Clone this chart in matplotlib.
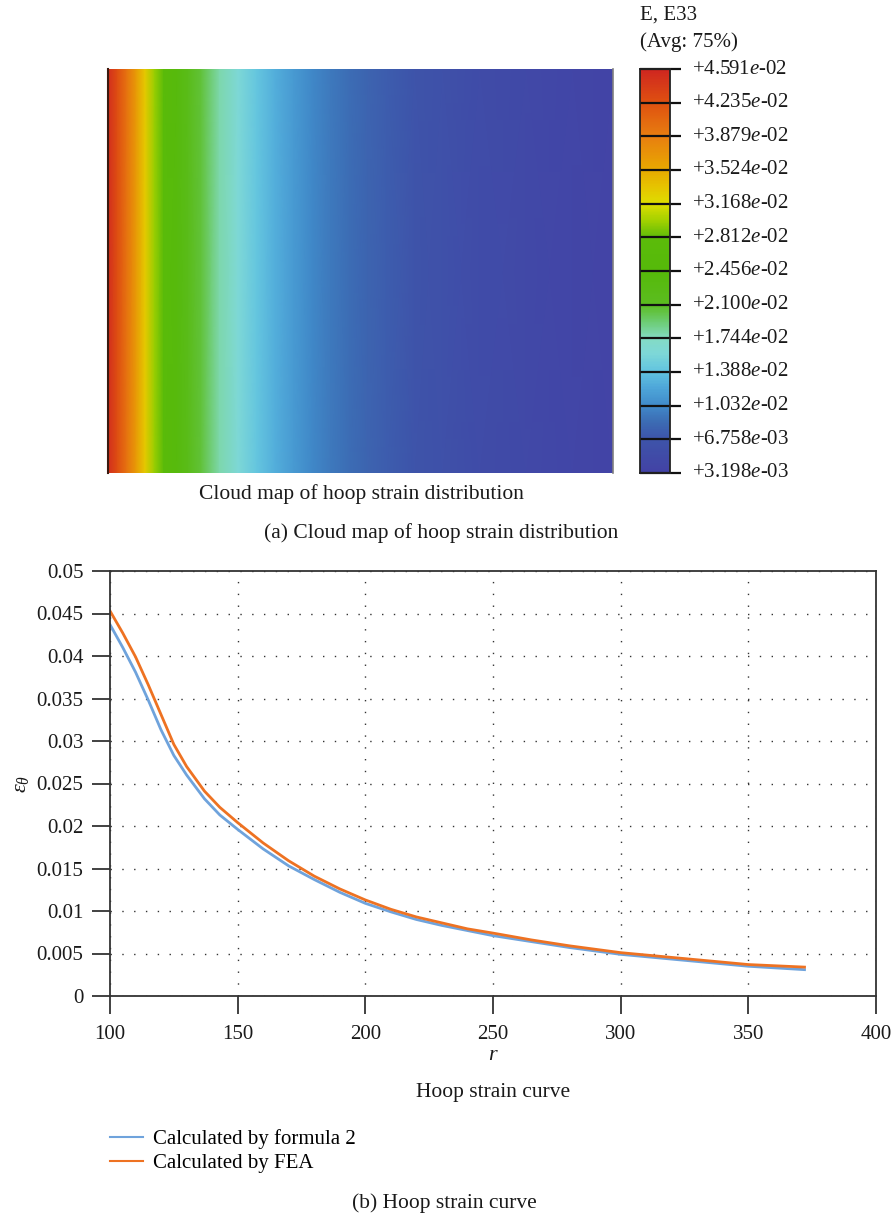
import numpy as np
import matplotlib
matplotlib.use("Agg")
import matplotlib.pyplot as plt
from matplotlib.colors import LinearSegmentedColormap, Normalize

plt.rcParams['font.family'] = ['Liberation Serif', 'DejaVu Serif']
plt.rcParams['mathtext.fontset'] = 'custom'
plt.rcParams['mathtext.rm'] = 'Liberation Serif'
plt.rcParams['mathtext.it'] = 'Liberation Serif:italic'

# ---------------- data ----------------
r_vals = [100, 105, 110, 115, 120, 125, 130, 137, 143, 150, 160, 170, 180, 190, 200,
          210, 220, 230, 240, 250, 265, 280, 300, 325, 350, 372]
strain_formula = [0.0437, 0.0410, 0.0381, 0.0348, 0.0313, 0.0283, 0.0260, 0.0232, 0.0213, 0.0196,
                  0.0173, 0.0153, 0.0137, 0.0122, 0.0109, 0.0099, 0.0090, 0.0083, 0.0077, 0.0071,
                  0.0064, 0.0057, 0.0049, 0.0042, 0.0035, 0.0031]
strain_fea = [0.0453, 0.0427, 0.0399, 0.0366, 0.0331, 0.0296, 0.0270, 0.0241, 0.0222, 0.0204,
              0.0180, 0.0159, 0.0141, 0.0126, 0.0113, 0.0102, 0.0093, 0.0086, 0.0079, 0.0074,
              0.0066, 0.0059, 0.0051, 0.0044, 0.0037, 0.0034]
contour_levels = [0.04591, 0.04235, 0.03879, 0.03524, 0.03168, 0.02812, 0.02456, 0.02100,
                  0.01744, 0.01388, 0.01032, 0.006758, 0.003198]
contour_labels = ["+4.591", "+4.235", "+3.879", "+3.524", "+3.168", "+2.812", "+2.456", "+2.100",
                  "+1.744", "+1.388", "+1.032", "+6.758", "+3.198"]
contour_exps = ["-02"] * 11 + ["-03", "-03"]
x_ticks = [100, 150, 200, 250, 300, 350, 400]
y_ticks = [0, 0.005, 0.01, 0.015, 0.02, 0.025, 0.03, 0.035, 0.04, 0.045, 0.05]
y_ticklabels = ["0", "0.005", "0.01", "0.015", "0.02", "0.025", "0.03", "0.035", "0.04", "0.045", "0.05"]
series_names = ["Calculated by formula 2", "Calculated by FEA"]

# ---------------- colormap ----------------
vmin, vmax = 0.003198, 0.04591
nodes = [
    (0.003198, "#4343a6"),
    (0.006758, "#3e55aa"),
    (0.0085, "#3c6cb4"),
    (0.01032, "#418ccb"),
    (0.0122, "#4fa8da"),
    (0.01388, "#62c4e0"),
    (0.0158, "#7ed8d8"),
    (0.01744, "#84dcc4"),
    (0.0192, "#6ccc70"),
    (0.0210, "#5cbd20"),
    (0.0246, "#56ba0a"),
    (0.0281, "#5cbc0a"),
    (0.0300, "#a6d200"),
    (0.03168, "#dede00"),
    (0.0335, "#e6c400"),
    (0.03524, "#e8aa00"),
    (0.03879, "#e88010"),
    (0.04235, "#e05210"),
    (0.04591, "#d02820"),
]
cmap = LinearSegmentedColormap.from_list(
    "abaqus", [((v - vmin) / (vmax - vmin), c) for v, c in nodes])
norm = Normalize(vmin=vmin, vmax=vmax)

W, H = 895, 1217
fig = plt.figure(figsize=(W / 100, H / 100), dpi=100)

def fx(px):
    return px / W

def fy(py):
    return 1 - py / H

TXT = '#1a1a1a'

# ---------------- heat map ----------------
ax_map = fig.add_axes([fx(108), fy(473), fx(613) - fx(108), fy(69) - fy(473)])
R, Y = np.meshgrid(np.array(r_vals, float), np.array([0.0, 1.0]))
C = np.vstack([strain_fea, strain_fea])
ax_map.pcolormesh(R, Y, C, cmap=cmap, norm=norm, shading='gouraud')
ax_map.set_xlim(r_vals[0], r_vals[-1])
ax_map.set_ylim(0, 1)
ax_map.set_xticks([])
ax_map.set_yticks([])
for s in ax_map.spines.values():
    s.set_visible(False)
ax_map.spines['left'].set_visible(True)
ax_map.spines['left'].set_color('#3a1a10')
ax_map.spines['left'].set_linewidth(1.5)
ax_map.spines['right'].set_visible(True)
ax_map.spines['right'].set_color('#808080')
ax_map.spines['right'].set_linewidth(1.2)

# ---------------- colour legend ----------------
ax_cb = fig.add_axes([fx(640), fy(473), fx(670) - fx(640), fy(69) - fy(473)])
grad = np.linspace(vmin, vmax, 400).reshape(-1, 1)
ax_cb.imshow(grad, cmap=cmap, norm=norm, aspect='auto', origin='lower',
             extent=[0, 1, vmin, vmax])
ax_cb.set_xlim(0, 1)
ax_cb.set_ylim(vmin, vmax)
ax_cb.set_xticks([])
ax_cb.set_yticks([])
for s in ax_cb.spines.values():
    s.set_color('#222222')
    s.set_linewidth(1.3)
ax_cb.hlines(contour_levels, 0, 1.38, colors='#111111', linewidth=1.6, clip_on=False)
for lv, lab, ex in zip(contour_levels, contour_labels, contour_exps):
    ax_cb.text(1.75, lv, lab + r"$\mathit{e}$" + ex, transform=ax_cb.get_yaxis_transform(),
               ha='left', va='center', fontsize=15, color=TXT)

fig.text(fx(640), fy(15), "E, E33", ha='left', va='center', fontsize=15, color=TXT)
fig.text(fx(640), fy(42), "(Avg: 75%)", ha='left', va='center', fontsize=15, color=TXT)
fig.text(fx(361), fy(494), "Cloud map of hoop strain distribution", ha='center', va='center',
         fontsize=15.5, color=TXT)
fig.text(fx(441), fy(533), "(a) Cloud map of hoop strain distribution", ha='center', va='center',
         fontsize=15.5, color=TXT)

# ---------------- line chart ----------------
ax = fig.add_axes([fx(110), fy(996), fx(876) - fx(110), fy(571) - fy(996)])
l1, = ax.plot(r_vals, strain_formula, color='#6fa3dc', linewidth=2.0, label=series_names[0])
l2, = ax.plot(r_vals, strain_fea, color='#ee7222', linewidth=2.0, label=series_names[1])
ax.set_xlim(100, 400)
ax.set_ylim(0, 0.05)
ax.set_xticks(x_ticks)
ax.set_xticklabels([str(t) for t in x_ticks])
ax.set_yticks(y_ticks)
ax.set_yticklabels(y_ticklabels)
ax.tick_params(direction='out', length=13, width=1.3, color='#333333', labelsize=15,
               labelcolor=TXT, pad=6)
ax.tick_params(axis='x', pad=8)
ax.grid(True, color='#333333', linestyle=(0, (1.0, 7.5)), linewidth=1.0)
for s in ax.spines.values():
    s.set_color('#333333')
    s.set_linewidth(1.3)
ax.set_xlabel(r"$\mathit{r}$", fontsize=16, labelpad=1, color=TXT)
ax.set_ylabel(r"$\varepsilon_{\theta}$", fontsize=16, labelpad=4, color=TXT)

fig.text(fx(493), fy(1093), "Hoop strain curve", ha='center', va='center', fontsize=15.5,
         color=TXT)
leg = fig.legend(handles=[l1, l2], loc='upper left', bbox_to_anchor=(fx(110), fy(1129)),
                 frameon=False, fontsize=15, handlelength=1.6, handletextpad=0.48,
                 labelspacing=0.22, borderaxespad=0, borderpad=0)
for h in leg.get_lines():
    h.set_linewidth(1.5)
fig.text(fx(444), fy(1203), "(b) Hoop strain curve", ha='center', va='center', fontsize=15.5,
         color=TXT)

fig.savefig("out.png", dpi=100)
